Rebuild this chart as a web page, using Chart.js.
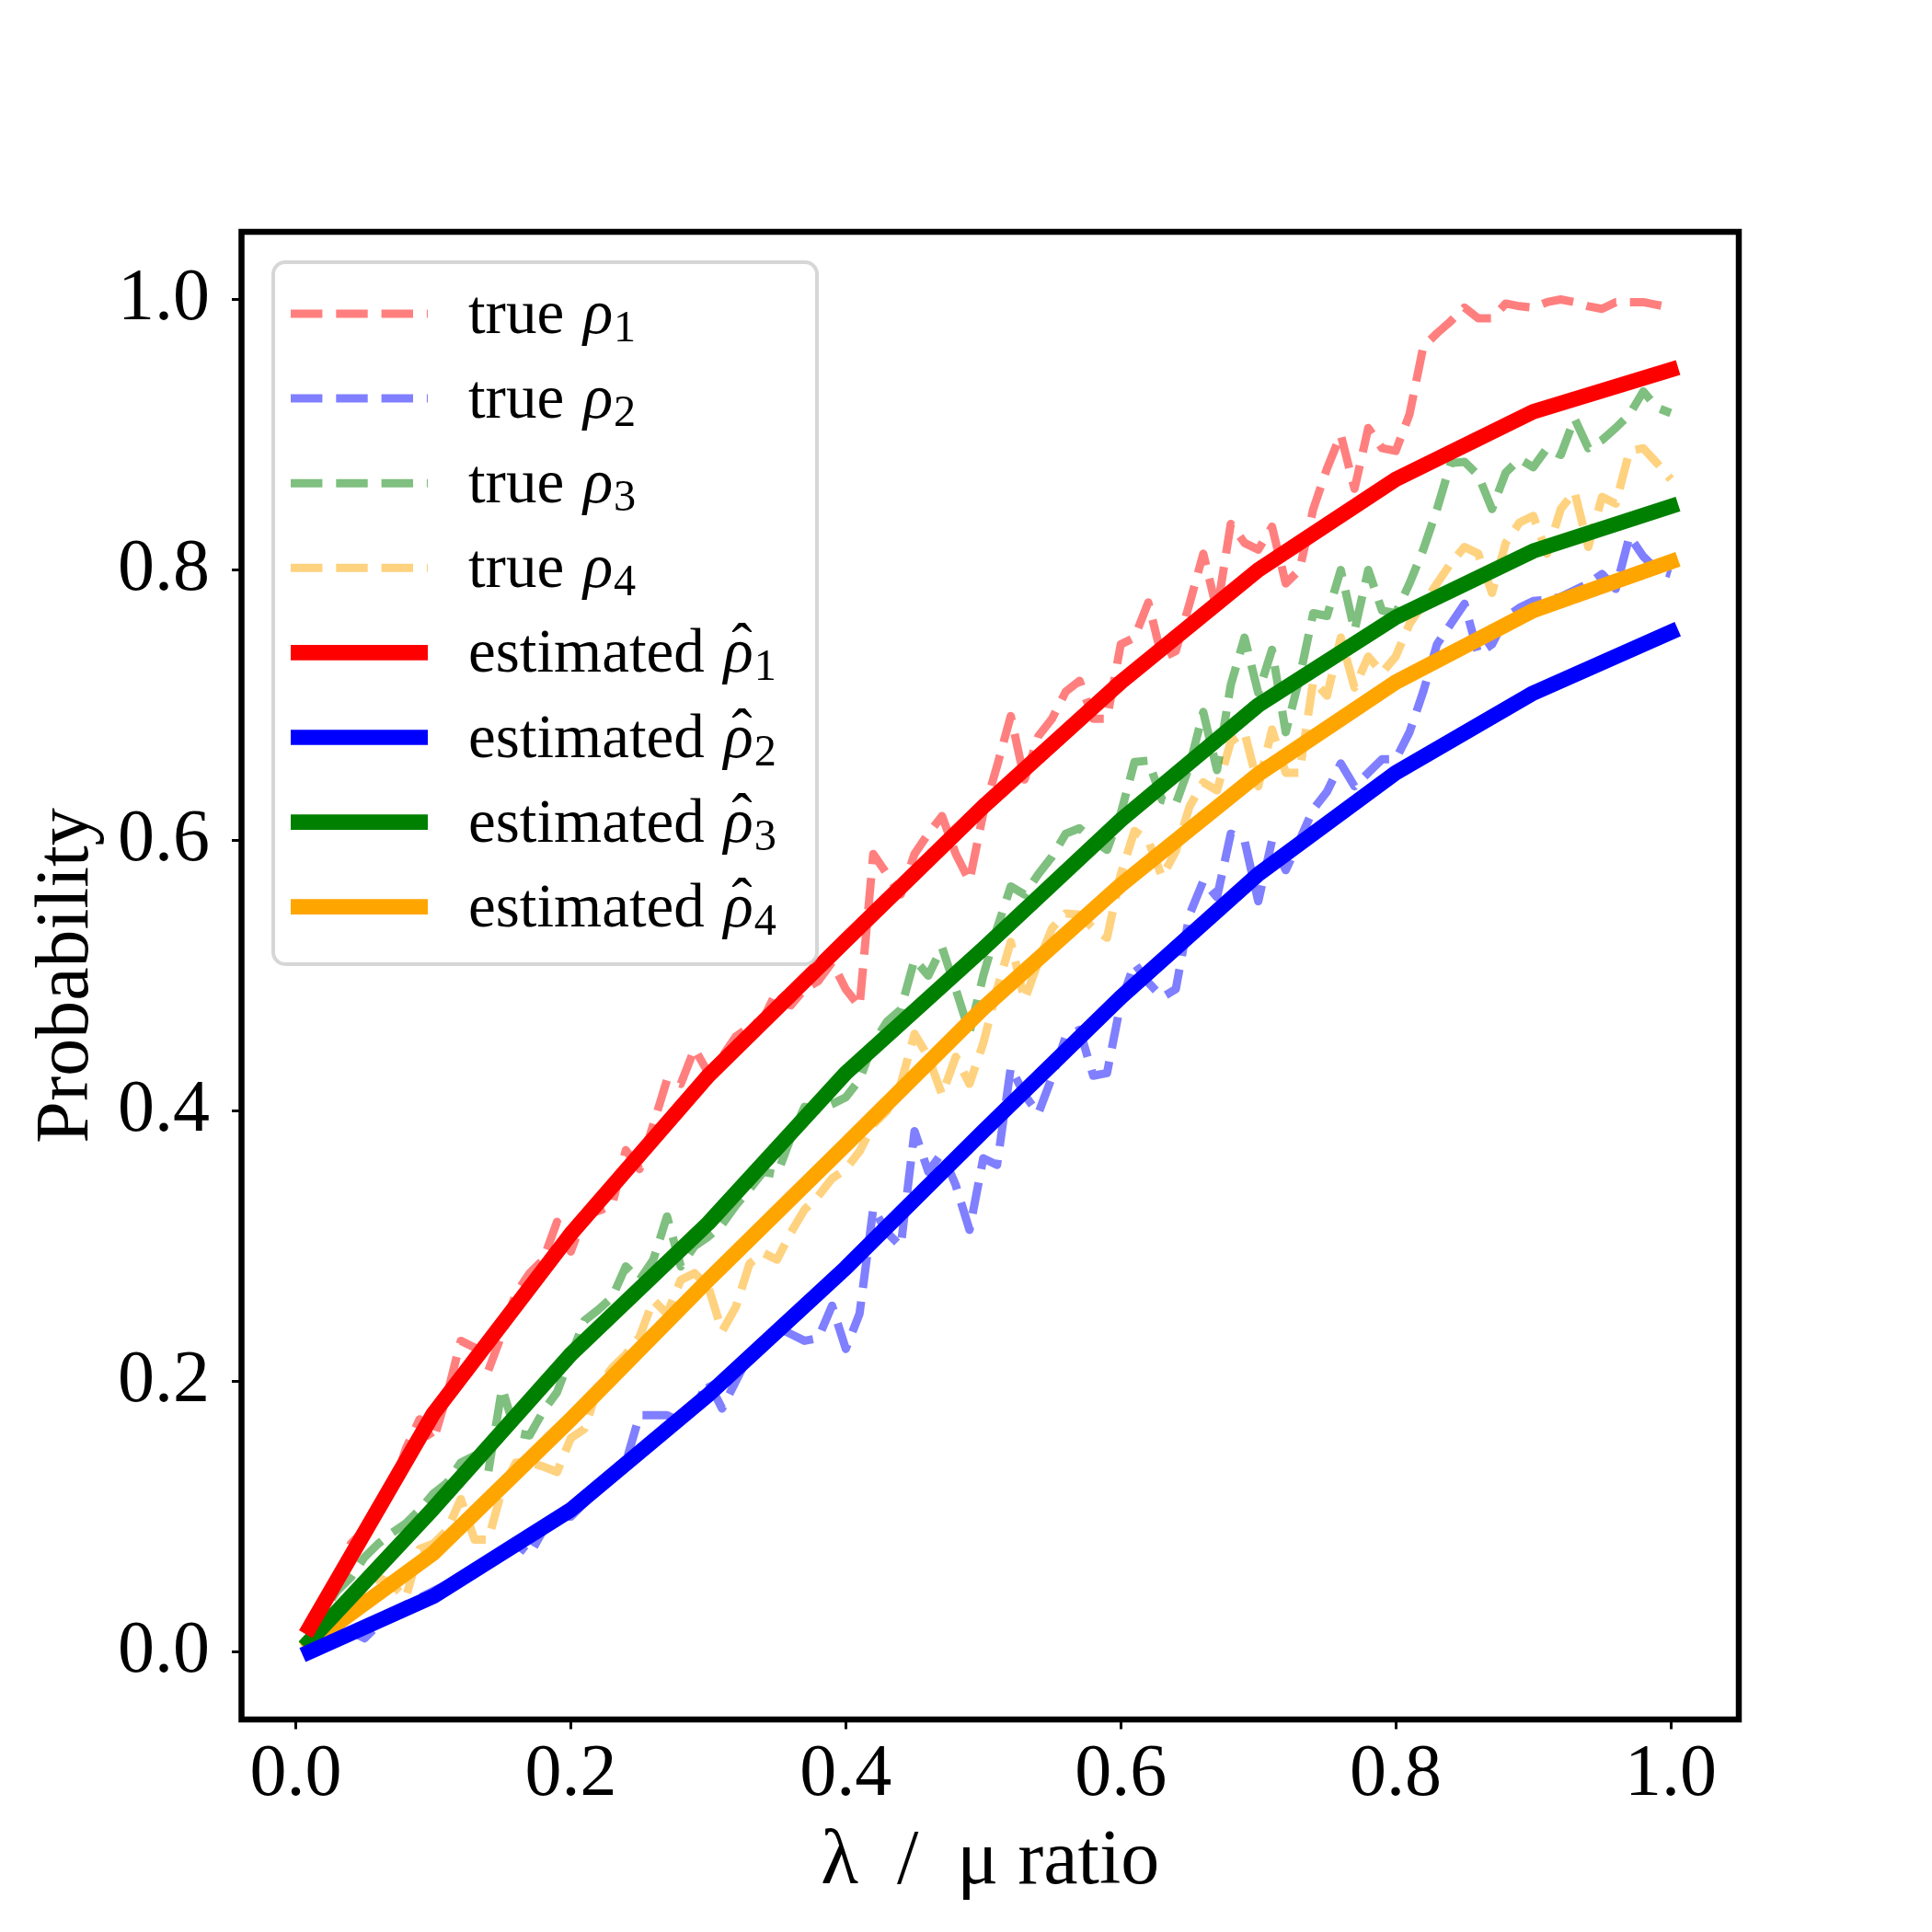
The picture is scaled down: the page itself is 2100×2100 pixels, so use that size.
<!DOCTYPE html>
<html lang="en">
<head>
    <meta charset="UTF-8">
    <title>Probability vs ratio</title>
    <script src="https://cdn.jsdelivr.net/npm/chart.js"></script>
    <style>
        body { margin: 0; background: #fff; }
        #wrap { width: 2100px; height: 2100px; }
    </style>
</head>
<body>
    <div id="wrap"><canvas id="probChart" width="2100" height="2100"></canvas></div>
    <script>
        // x positions of the simulated ("true") curves
        const trueX = [
            0.01, 0.02, 0.03, 0.04, 0.05, 0.06, 0.07, 0.08, 0.09, 0.10,
            0.11, 0.12, 0.13, 0.14, 0.15, 0.16, 0.17, 0.18, 0.19, 0.20,
            0.21, 0.22, 0.23, 0.24, 0.25, 0.26, 0.27, 0.28, 0.29, 0.30,
            0.31, 0.32, 0.33, 0.34, 0.35, 0.36, 0.37, 0.38, 0.39, 0.40,
            0.41, 0.42, 0.43, 0.44, 0.45, 0.46, 0.47, 0.48, 0.49, 0.50,
            0.51, 0.52, 0.53, 0.54, 0.55, 0.56, 0.57, 0.58, 0.59, 0.60,
            0.61, 0.62, 0.63, 0.64, 0.65, 0.66, 0.67, 0.68, 0.69, 0.70,
            0.71, 0.72, 0.73, 0.74, 0.75, 0.76, 0.77, 0.78, 0.79, 0.80,
            0.81, 0.82, 0.83, 0.84, 0.85, 0.86, 0.87, 0.88, 0.89, 0.90,
            0.91, 0.92, 0.93, 0.94, 0.95, 0.96, 0.97, 0.98, 0.99, 1.00
        ];
        const trueRho1 = [
            0.02, 0.035, 0.05, 0.08, 0.09, 0.10, 0.12, 0.15, 0.172, 0.156,
            0.19, 0.23, 0.225, 0.208, 0.235, 0.265, 0.28, 0.29, 0.318, 0.296,
            0.323, 0.326, 0.33, 0.371, 0.357, 0.39, 0.423, 0.42, 0.446, 0.428,
            0.44, 0.455, 0.462, 0.468, 0.489, 0.478, 0.49, 0.496, 0.51, 0.49,
            0.477, 0.59, 0.575, 0.56, 0.59, 0.605, 0.618, 0.59, 0.57, 0.62,
            0.655, 0.692, 0.645, 0.677, 0.69, 0.71, 0.718, 0.69, 0.69, 0.745,
            0.75, 0.776, 0.735, 0.74, 0.775, 0.812, 0.77, 0.834, 0.82, 0.815,
            0.832, 0.79, 0.80, 0.845, 0.875, 0.90, 0.86, 0.905, 0.89, 0.888,
            0.915, 0.965, 0.975, 0.984, 0.994, 0.986, 0.986, 0.997, 0.995, 0.994,
            0.998, 1.0, 0.998, 0.995, 0.993, 0.998, 0.998, 0.998, 0.996, 0.994
        ];
        const trueRho2 = [
            0.005, 0.01, 0.02, 0.015, 0.01, 0.02, 0.03, 0.035, 0.04, 0.045,
            0.05, 0.055, 0.06, 0.065, 0.075, 0.08, 0.072, 0.09, 0.10, 0.10,
            0.11, 0.12, 0.13, 0.14, 0.175, 0.175, 0.175, 0.17, 0.18, 0.20,
            0.18, 0.20, 0.22, 0.23, 0.24, 0.235, 0.23, 0.232, 0.256, 0.224,
            0.25, 0.328, 0.31, 0.30, 0.385, 0.355, 0.369, 0.345, 0.312, 0.365,
            0.36, 0.432, 0.412, 0.398, 0.425, 0.455, 0.46, 0.426, 0.428, 0.48,
            0.509, 0.495, 0.484, 0.49, 0.545, 0.57, 0.558, 0.605, 0.60, 0.555,
            0.60, 0.578, 0.60, 0.623, 0.636, 0.657, 0.64, 0.65, 0.66, 0.66,
            0.68, 0.71, 0.745, 0.76, 0.775, 0.738, 0.745, 0.765, 0.772, 0.777,
            0.778, 0.78, 0.785, 0.79, 0.797, 0.786, 0.825, 0.81, 0.80, 0.797
        ];
        const trueRho3 = [
            0.01, 0.03, 0.045, 0.055, 0.07, 0.08, 0.088, 0.095, 0.105, 0.117,
            0.125, 0.14, 0.145, 0.133, 0.195, 0.162, 0.16, 0.178, 0.192, 0.219,
            0.245, 0.253, 0.262, 0.285, 0.275, 0.29, 0.322, 0.285, 0.30, 0.307,
            0.316, 0.33, 0.342, 0.355, 0.353, 0.38, 0.403, 0.401, 0.405, 0.41,
            0.423, 0.45, 0.466, 0.475, 0.512, 0.50, 0.521, 0.49, 0.458, 0.50,
            0.535, 0.566, 0.56, 0.575, 0.588, 0.605, 0.609, 0.60, 0.593, 0.62,
            0.658, 0.659, 0.63, 0.627, 0.655, 0.695, 0.652, 0.715, 0.75, 0.709,
            0.741, 0.68, 0.72, 0.768, 0.766, 0.80, 0.755, 0.80, 0.77, 0.768,
            0.79, 0.815, 0.845, 0.879, 0.88, 0.87, 0.845, 0.872, 0.882, 0.876,
            0.89, 0.885, 0.912, 0.89, 0.896, 0.905, 0.915, 0.932, 0.92, 0.916
        ];
        const trueRho4 = [
            0.005, 0.015, 0.025, 0.035, 0.045, 0.055, 0.05, 0.04, 0.076, 0.08,
            0.09, 0.113, 0.083, 0.083, 0.12, 0.14, 0.14, 0.137, 0.133, 0.158,
            0.165, 0.196, 0.21, 0.22, 0.233, 0.26, 0.25, 0.275, 0.28, 0.27,
            0.237, 0.255, 0.287, 0.295, 0.29, 0.31, 0.327, 0.337, 0.35, 0.357,
            0.37, 0.39, 0.40, 0.42, 0.457, 0.44, 0.412, 0.44, 0.42, 0.45,
            0.49, 0.525, 0.482, 0.51, 0.535, 0.546, 0.545, 0.535, 0.528, 0.575,
            0.607, 0.60, 0.573, 0.592, 0.625, 0.643, 0.637, 0.673, 0.68, 0.64,
            0.682, 0.65, 0.65, 0.718, 0.707, 0.75, 0.713, 0.736, 0.724, 0.736,
            0.76, 0.775, 0.79, 0.805, 0.817, 0.812, 0.783, 0.82, 0.835, 0.84,
            0.812, 0.845, 0.858, 0.817, 0.854, 0.849, 0.888, 0.89, 0.879, 0.867
        ];

        // x positions of the estimated curves
        const estX = [0.01, 0.1, 0.2, 0.3, 0.4, 0.5, 0.6, 0.7, 0.8, 0.9, 1.0];
        const estRho1 = [0.018, 0.176, 0.309, 0.426, 0.526, 0.625, 0.717, 0.800, 0.867, 0.917, 0.948];
        const estRho2 = [0.000, 0.041, 0.105, 0.190, 0.284, 0.385, 0.484, 0.575, 0.650, 0.709, 0.754];
        const estRho3 = [0.008, 0.106, 0.220, 0.317, 0.428, 0.520, 0.615, 0.700, 0.765, 0.814, 0.847];
        const estRho4 = [0.006, 0.073, 0.172, 0.275, 0.375, 0.476, 0.567, 0.649, 0.717, 0.770, 0.806];

        const yTicks = [0.0, 0.2, 0.4, 0.6, 0.8, 1.0];
        const xTicks = [0.0, 0.2, 0.4, 0.6, 0.8, 1.0];

        const FONT = '"Liberation Serif", "DejaVu Serif", serif';

        function pairs(xs, ys) {
            return xs.map((x, i) => ({ x: x, y: ys[i] }));
        }

        function trueSet(label, sub, data, color) {
            return {
                label: label, sub: sub, hat: false,
                data: pairs(trueX, data),
                borderColor: color,
                borderWidth: 9,
                borderDash: [34.4, 14.9],
                borderCapStyle: 'butt',
                borderJoinStyle: 'round',
                pointRadius: 0,
                fill: false,
                tension: 0,
                order: 2
            };
        }

        function estSet(label, sub, data, color) {
            return {
                label: label, sub: sub, hat: true,
                data: pairs(estX, data),
                borderColor: color,
                borderWidth: 16.7,
                borderCapStyle: 'square',
                borderJoinStyle: 'round',
                pointRadius: 0,
                fill: false,
                tension: 0,
                order: 1
            };
        }

        // frame around the plot area (matplotlib style spines)
        const framePlugin = {
            id: 'frame',
            afterDatasetsDraw(chart) {
                const { ctx, chartArea: a } = chart;
                ctx.save();
                ctx.strokeStyle = '#000';
                ctx.lineWidth = 6.5;
                ctx.strokeRect(a.left, a.top, a.right - a.left, a.bottom - a.top);
                ctx.restore();
            }
        };

        // legend drawn inside the axes, upper left
        const legendPlugin = {
            id: 'innerLegend',
            afterDraw(chart) {
                const ctx = chart.ctx;
                const box = { x: 297, y: 285, w: 591, h: 763, r: 13 };
                ctx.save();
                ctx.beginPath();
                ctx.roundRect(box.x, box.y, box.w, box.h, box.r);
                ctx.fillStyle = 'rgba(255,255,255,0.8)';
                ctx.fill();
                ctx.lineWidth = 4;
                ctx.strokeStyle = 'rgba(204,204,204,0.8)';
                ctx.stroke();

                const rowY0 = 341, rowStep = 92.1;
                const fs = 67;
                chart.data.datasets.forEach((ds, i) => {
                    const cy = rowY0 + rowStep * i;
                    ctx.beginPath();
                    ctx.setLineDash(ds.borderDash || []);
                    ctx.lineWidth = ds.borderWidth;
                    ctx.lineCap = 'butt';
                    ctx.strokeStyle = ds.borderColor;
                    ctx.moveTo(316, cy);
                    ctx.lineTo(465, cy);
                    ctx.stroke();
                    ctx.setLineDash([]);

                    const base = cy + 21;
                    let tx = 509;
                    ctx.fillStyle = '#000';
                    ctx.textBaseline = 'alphabetic';
                    ctx.textAlign = 'left';
                    ctx.font = fs + 'px ' + FONT;
                    ctx.fillText(ds.label + ' ', tx, base);
                    tx += ctx.measureText(ds.label + ' ').width + 4;
                    ctx.font = 'italic ' + fs + 'px ' + FONT;
                    ctx.fillText('ρ', tx, base);
                    const rw = ctx.measureText('ρ').width;
                    if (ds.hat) {
                        ctx.font = fs + 'px ' + FONT;
                        ctx.textAlign = 'center';
                        ctx.fillText('ˆ', tx + rw * 0.62, base - 6);
                        ctx.textAlign = 'left';
                    }
                    tx += rw + 1;
                    ctx.font = (fs * 0.72) + 'px ' + FONT;
                    ctx.fillText(ds.sub, tx, base + 9);
                });
                ctx.restore();
            }
        };

        new Chart(document.getElementById('probChart'), {
            type: 'line',
            data: {
                datasets: [
                    trueSet('true', '1', trueRho1, 'rgba(255,0,0,0.5)'),
                    trueSet('true', '2', trueRho2, 'rgba(0,0,255,0.5)'),
                    trueSet('true', '3', trueRho3, 'rgba(0,128,0,0.5)'),
                    trueSet('true', '4', trueRho4, 'rgba(255,165,0,0.5)'),
                    estSet('estimated', '1', estRho1, '#ff0000'),
                    estSet('estimated', '2', estRho2, '#0000ff'),
                    estSet('estimated', '3', estRho3, '#008000'),
                    estSet('estimated', '4', estRho4, '#ffa500')
                ]
            },
            options: {
                responsive: false,
                devicePixelRatio: 1,
                animation: false,
                layout: { padding: { top: 252, right: 210, left: 0, bottom: 0 } },
                plugins: {
                    legend: { display: false },
                    tooltip: { enabled: false }
                },
                scales: {
                    x: {
                        type: 'linear',
                        min: -0.0395,
                        max: 1.0495,
                        afterFit: s => { s.height = 231; },
                        afterBuildTicks: s => { s.ticks = xTicks.map(v => ({ value: v })); },
                        border: { display: false },
                        grid: {
                            drawOnChartArea: false,
                            drawTicks: true,
                            tickLength: 10.5,
                            tickWidth: 3,
                            tickColor: '#000'
                        },
                        ticks: {
                            padding: 2,
                            color: '#000',
                            maxRotation: 0,
                            font: { family: FONT, size: 80, lineHeight: 1.2 },
                            callback: v => v.toFixed(1)
                        },
                        title: {
                            display: true,
                            text: 'λ  /  μ ratio',
                            color: '#000',
                            padding: { top: 0, bottom: 33 },
                            font: { family: FONT, size: 84, lineHeight: 1.0 }
                        }
                    },
                    y: {
                        type: 'linear',
                        min: -0.05,
                        max: 1.05,
                        afterFit: s => { s.width = 262.5; },
                        afterBuildTicks: s => { s.ticks = yTicks.map(v => ({ value: v })); },
                        border: { display: false },
                        grid: {
                            drawOnChartArea: false,
                            drawTicks: true,
                            tickLength: 10.5,
                            tickWidth: 3,
                            tickColor: '#000'
                        },
                        ticks: {
                            padding: 24,
                            color: '#000',
                            font: { family: FONT, size: 80, lineHeight: 1.2 },
                            callback: v => v.toFixed(1)
                        },
                        title: {
                            display: true,
                            text: 'Probability',
                            color: '#000',
                            padding: { top: 32, bottom: 0 },
                            font: { family: FONT, size: 82, lineHeight: 1.0 }
                        }
                    }
                }
            },
            plugins: [framePlugin, legendPlugin]
        });
    </script>
</body>
</html>
